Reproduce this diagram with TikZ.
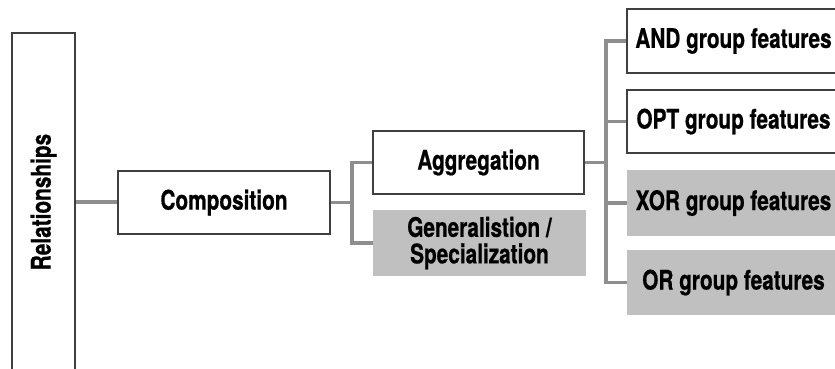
\documentclass[tikz,border=0pt]{standalone}
\usepackage{fontspec}
\setmainfont{TeX Gyre Heros}[FakeStretch=0.77, BoldFeatures={FakeBold=0.6}]
\definecolor{boxline}{HTML}{3F3F3F}
\definecolor{conn}{HTML}{8E8E8E}
\definecolor{grayfill}{HTML}{C0C0C0}
\begin{document}
\begin{tikzpicture}[x=1pt,y=-1pt,
  every node/.style={font=\fontsize{27}{26.5}\selectfont\bfseries, inner sep=0pt, align=center},
  wbox/.style={draw=boxline, line width=1.3pt, fill=white, rectangle},
  gbox/.style={fill=grayfill, rectangle},
  link/.style={draw=conn, line width=3.2pt}
]
\useasboundingbox (0,0) rectangle (835,368);
\clip (0,0) rectangle (835,368);
\node[wbox, minimum width=63pt, minimum height=338pt] (rel) at (43.5,202) {\rotatebox{90}{Relationships}};
\node[wbox, minimum width=212pt, minimum height=63pt] (comp) at (224,202.5) {Composition};
\node[wbox, minimum width=211pt, minimum height=63pt] (agg) at (478.5,162.5) {Aggregation};
\node[gbox, minimum width=213pt, minimum height=66pt] (gen) at (479.5,243) {Generalistion /\\Specialization};
\node[wbox, minimum width=213pt, minimum height=64pt] (and) at (733.5,41) {AND group features};
\node[wbox, minimum width=213pt, minimum height=63pt] (opt) at (733.5,121.5) {OPT group features};
\node[gbox, minimum width=213pt, minimum height=66pt] (xor) at (733.5,203) {XOR group features};
\node[gbox, minimum width=213pt, minimum height=65pt] (or) at (733.5,282.5) {OR group features};
\coordinate (j1) at (352,202.5);
\coordinate (j2) at (606,162.5);
\draw[link] (rel.east) -- (rel.east -| comp.west);
\draw[link] (comp.east) -- (j1);
\draw[link] (agg.west) -| (j1) |- (gen.west);
\draw[link] (agg.east) -- (j2);
\draw[link] (and.west) -| (j2) |- (or.west);
\draw[link] (opt.west) -- (opt.west -| j2);
\draw[link] (xor.west) -- (xor.west -| j2);
\end{tikzpicture}
\end{document}
